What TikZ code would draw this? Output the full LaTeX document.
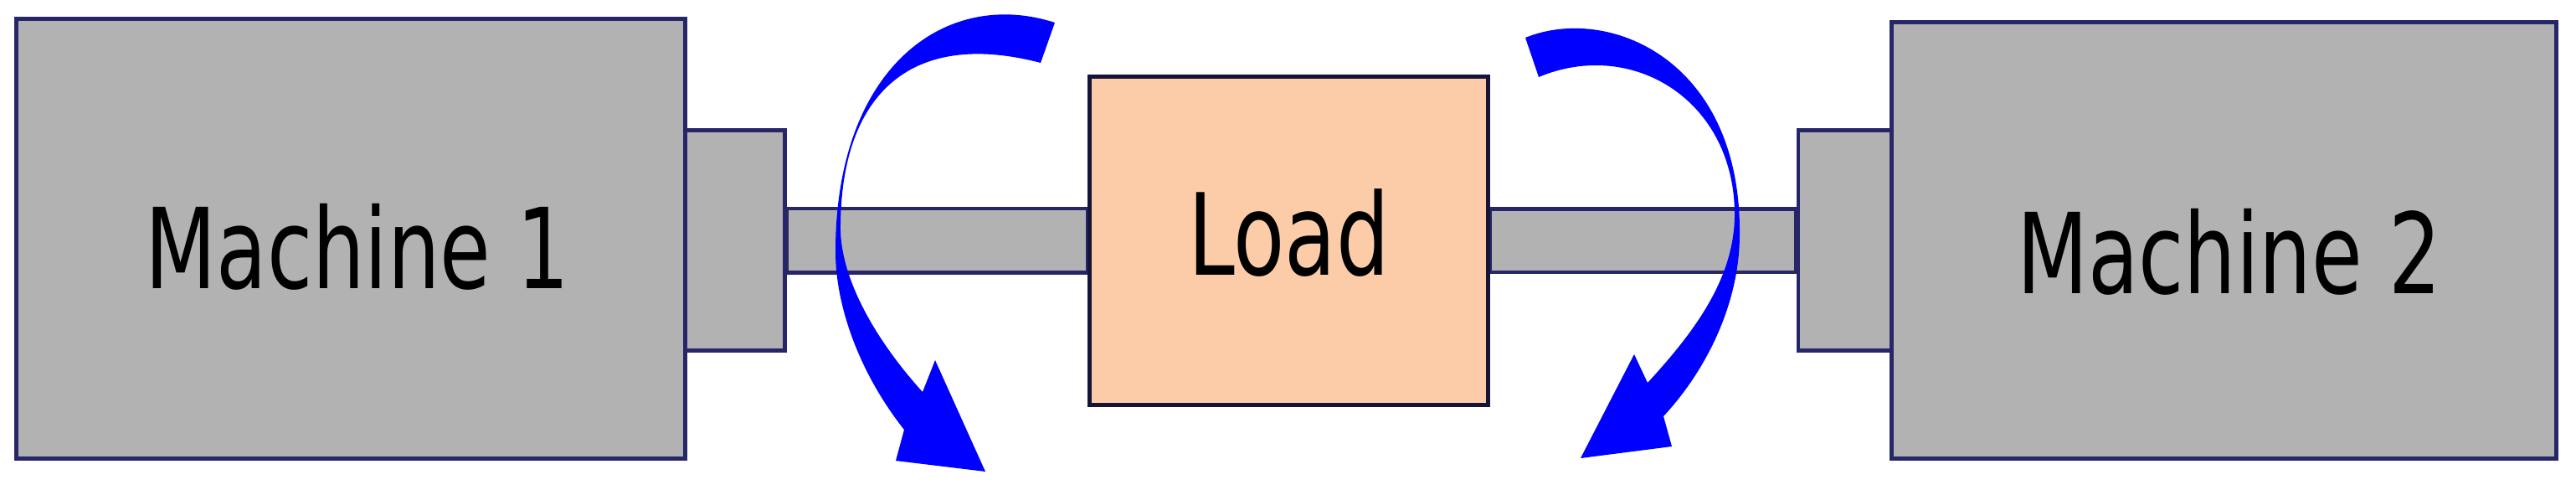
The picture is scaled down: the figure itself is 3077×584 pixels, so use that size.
\documentclass[tikz,border=0pt]{standalone}
\usepackage{fontspec}
\newfontfamily\lblfont[FakeStretch=0.74]{DejaVu Sans}
\usetikzlibrary{calc}
\definecolor{boxgray}{RGB}{178,178,178}
\definecolor{boxedge}{RGB}{38,38,105}
\definecolor{loadfill}{RGB}{252,204,168}
\definecolor{loadedge}{RGB}{20,20,55}
\definecolor{arrowblue}{RGB}{0,0,255}
\tikzset{
  machine/.style={draw=boxedge, fill=boxgray, line width=1.4pt, inner sep=0pt,
    font=\lblfont\fontsize{37.9}{40}\selectfont},
  coupling/.style={draw=boxedge, fill=boxgray, line width=1.4pt, inner sep=0pt},
  loadbox/.style={draw=loadedge, fill=loadfill, line width=1.4pt, inner sep=0pt,
    font=\lblfont\fontsize{38.5}{40}\selectfont},
  shaft/.style={draw=boxedge, fill=boxgray, line width=1.4pt},
  torque/.style={fill=arrowblue, draw=none}
}
\newcommand{\lowtext}[3]{\hspace*{#2}\raisebox{-#1}[0pt][0pt]{#3}}
\begin{document}
\begin{tikzpicture}[x=0.01cm, y=-0.01cm]
\useasboundingbox (0,0) rectangle (3077,584);
% couplings and load (named), shafts between them
\node[coupling, minimum width=1.19cm, minimum height=2.62cm] (c1) at (877.5,287) {};
\node[coupling, minimum width=1.12cm, minimum height=2.62cm] (c2) at (2204,287) {};
\node[loadbox, minimum width=4.75cm, minimum height=3.91cm] (load) at (1539.5,287.5) {};
\path[shaft] ($(c1.east)+(0,-38)$) rectangle ($(load.west)+(0,38)$);
\path[shaft] ($(load.east)+(0,-38)$) rectangle ($(c2.west)+(0,38)$);
% redraw couplings and load over shaft ends
\node[coupling, minimum width=1.19cm, minimum height=2.62cm] at (c1) {};
\node[coupling, minimum width=1.12cm, minimum height=2.62cm] at (c2) {};
\node[loadbox, minimum width=4.75cm, minimum height=3.91cm] at (load) {\lowtext{0.405cm}{0cm}{Load}};
\node[machine, minimum width=7.98cm, minimum height=5.24cm] (m1) at (419,285) {\lowtext{0.59cm}{0.16cm}{Machine 1}};
\node[machine, minimum width=7.93cm, minimum height=5.20cm] (m2) at (2656.5,287) {\lowtext{0.63cm}{0.12cm}{Machine 2}};
% left torque arrow
\fill[torque] (1260,27) .. controls (1130,-15) and (998,80) .. (998,300)
  .. controls (998,370) and (1030,450) .. (1080,513)
  -- (1070,550) -- (1177,563) -- (1117,430) -- (1102,468)
  .. controls (1045,405) and (1002,330) .. (1004,267)
  .. controls (1006,110) and (1090,35) .. (1243,75)
  -- cycle;
% right torque arrow
\fill[torque] (1822,45) .. controls (1920,5) and (2080,70) .. (2078,280)
  .. controls (2078,360) and (2040,440) .. (1987,497)
  -- (1997,533) -- (1888,547) -- (1952,423) -- (1968,457)
  .. controls (2030,390) and (2070,330) .. (2072,260)
  .. controls (2074,120) and (1950,45) .. (1838,92)
  -- cycle;
\end{tikzpicture}
\end{document}
